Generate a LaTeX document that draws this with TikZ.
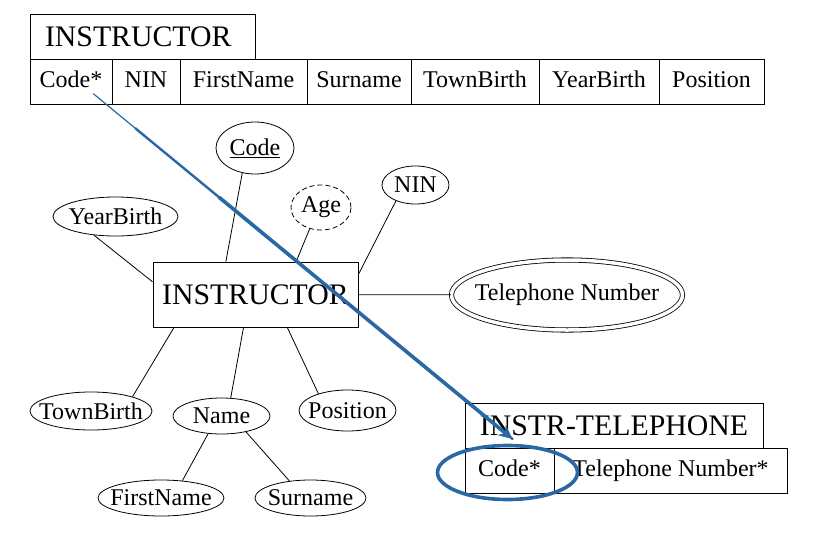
\documentclass[tikz,border=0pt]{standalone}
\usepackage{fontspec}
\setmainfont{Liberation Serif}
\usetikzlibrary{positioning,shapes.geometric,arrows.meta,calc}
\definecolor{penblue}{RGB}{42,104,164}
\tikzset{
  cell/.style={draw,line width=0.8pt,minimum height=45pt,inner sep=0pt,outer sep=0pt,
    text height=17pt,text depth=5pt,font=\fontsize{24}{26}\selectfont},
  head/.style={cell,text height=21pt,text depth=1pt,font=\fontsize{29.8}{31}\selectfont},
  attr/.style={draw,ellipse,line width=0.8pt,inner sep=0pt},
  every label/.style={inner sep=0pt,font=\fontsize{24}{26}\selectfont},
  link/.style={line width=0.8pt},
  pen/.style={penblue,line width=3.6pt,line cap=round}
}
\begin{document}
\begin{tikzpicture}[x=1pt,y=-1pt]
  \useasboundingbox (0,0) rectangle (816,546);
  % table INSTRUCTOR
  \node[head,minimum width=225pt,text width=195pt,align=left] (t) at (142.5,36.5) {INSTRUCTOR};
  \node[cell,minimum width=82pt,anchor=north west] (c1) at (t.south west) {Code*};
  \node[cell,minimum width=68pt,right=0pt of c1] (c2) {NIN};
  \node[cell,minimum width=127pt,right=0pt of c2] (c3) {FirstName};
  \node[cell,minimum width=104pt,right=0pt of c3] (c4) {Surname};
  \node[cell,minimum width=128pt,right=0pt of c4] (c5) {TownBirth};
  \node[cell,minimum width=120pt,right=0pt of c5] (c6) {YearBirth};
  \node[cell,minimum width=105pt,right=0pt of c6] (c7) {Position};
  % entity and its attributes
  \node[draw,line width=0.8pt,minimum width=205pt,minimum height=65pt,inner sep=0pt,
    font=\fontsize{29.8}{31}\selectfont] (ent) at (255.5,294.5) {INSTRUCTOR};
  \node[attr,minimum width=78pt,minimum height=52pt,label={center:\underline{Code}}] (code) at (255,148) {};
  \node[attr,dashed,dash pattern=on 5pt off 3pt,minimum width=60pt,minimum height=45pt,
    label={center:Age}] (age) at (321,207.5) {};
  \node[attr,minimum width=67pt,minimum height=38pt,label={center:NIN}] (nin) at (415.5,185) {};
  \node[attr,minimum width=125pt,minimum height=39pt,label={center:YearBirth}] (yb) at (115.5,216.5) {};
  \node[attr,double,double distance=3.5pt,minimum width=231pt,minimum height=70pt,
    label={center:Telephone Number}] (tel) at (567,295) {};
  \node[attr,minimum width=122pt,minimum height=38pt,label={center:TownBirth}] (tb) at (91,411) {};
  \node[attr,minimum width=97pt,minimum height=36pt,label={center:Name}] (name) at (221.5,416) {};
  \node[attr,minimum width=97pt,minimum height=41pt,label={center:Position}] (pos) at (347.5,410.5) {};
  \node[attr,minimum width=126pt,minimum height=36pt,label={center:FirstName}] (fn) at (161,498) {};
  \node[attr,minimum width=111pt,minimum height=36pt,label={center:Surname}] (sn) at (310.5,498) {};
  \draw[link] (code.243) -- (ent.132);
  \draw[link] (age.242) -- (ent.39);
  \draw[link] (nin.219) -- (ent.11);
  \draw[link] (yb.221) -- (ent.173);
  \draw[link] (ent) -- (tel);
  \draw[link] (tb.19) -- (ent.202);
  \draw[link] (name.63) -- (ent.250);
  \draw[link] (pos.150) -- (ent.314);
  \draw[link] (name.233) -- (fn.39);   % composite attribute
  \draw[link] (name.327) -- (sn.141);
  % table INSTR-TELEPHONE
  \node[head,minimum width=298pt] (r) at (614,425.5) {INSTR-TELEPHONE};
  \node[cell,minimum width=89pt,anchor=north west] (d1) at (r.south west) {Code*};
  \node[cell,minimum width=233pt,right=0pt of d1] (d2) {Telephone Number*};
  % hand-drawn foreign key mark
  \coordinate (from) at ($(c1.center)!0.55!(c1.south east)$);
  \coordinate (to) at ([shift={(3,-9)}]d1.north);
  \draw[pen,line width=1.2pt] (from) -- (to);
  \draw[pen,line width=2.4pt] ($(from)!0.1!(to)$) -- (to);
  \draw[pen,-{Stealth[length=14pt,width=13pt]}] ($(from)!0.3!(to)$) -- (to);
  \draw[pen] ([shift={(-2,2)}]d1.center) ellipse [x radius=70, y radius=27];
\end{tikzpicture}
\end{document}
